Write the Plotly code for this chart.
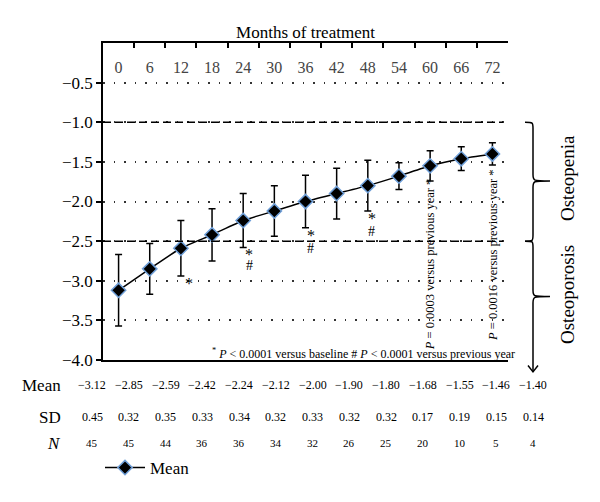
import plotly.graph_objects as go

months = ["0", "6", "12", "18", "24", "30", "36", "42", "48", "54", "60", "66", "72"]
mean = [-3.12, -2.85, -2.59, -2.42, -2.24, -2.12, -2.00, -1.90, -1.80, -1.68, -1.55, -1.46, -1.40]
sd = [0.45, 0.32, 0.35, 0.33, 0.34, 0.32, 0.33, 0.32, 0.32, 0.17, 0.19, 0.15, 0.14]
n_pat = [45, 45, 44, 36, 36, 34, 32, 26, 25, 20, 10, 5, 4]
y_ticks = [0.0, -0.5, -1.0, -1.5, -2.0, -2.5, -3.0, -3.5, -4.0]
thresholds = [-1.0, -2.5]

FONT = "'Liberation Serif', serif"
L, R, T, B = 103, 508, 43, 360  # plot area in pixels


def px(p):
    return (p - L) / (R - L)


def py(p):
    return (B - p) / (B - T)


def vy(v):
    return (v + 4.0) / 4.0


idx = {m: i for i, m in enumerate(months)}

fig = go.Figure()
fig.add_trace(go.Scatter(
    x=months, y=mean, mode="lines+markers", name="Mean",
    line=dict(color="black", width=1.5, shape="spline", smoothing=0.5),
    marker=dict(symbol="diamond", size=11, color="black",
                line=dict(color="#6f9fd8", width=1.5)),
    error_y=dict(type="data", array=sd, visible=True, color="black",
                 thickness=1.5, width=3.5),
))

shapes = []
for t in thresholds:
    shapes.append(dict(type="line", xref="paper", yref="y", x0=0, x1=px(503),
                       y0=t, y1=t, line=dict(color="black", width=1.5, dash="8px,4px")))

# braces
x0b, xv, xt = px(525), px(533), px(550)
def brace(ytop, ybot, ytip, tail=None):
    k = 0.02
    d = (f"M {x0b},{ytop} C {xv},{ytop} {xv},{ytop} {xv},{ytop - k} "
         f"L {xv},{ytip + k} C {xv},{ytip} {xv},{ytip} {xt},{ytip} "
         f"C {xv},{ytip} {xv},{ytip} {xv},{ytip - k} ")
    if tail is None:
        d += f"L {xv},{ybot + k} C {xv},{ybot} {xv},{ybot} {x0b},{ybot}"
    else:
        d += f"L {xv},{tail}"
    return d

shapes.append(dict(type="path", xref="paper", yref="paper",
                   path=brace(vy(-1.0), vy(-2.5), vy(-1.74)),
                   line=dict(color="black", width=1.5)))
shapes.append(dict(type="path", xref="paper", yref="paper",
                   path=brace(vy(-2.5), None, vy(-3.2), tail=vy(-4.15)),
                   line=dict(color="black", width=1.5)))
aw = 5 / (R - L)
shapes.append(dict(type="path", xref="paper", yref="paper",
                   path=f"M {xv - aw},{vy(-4.07)} L {xv},{vy(-4.15)} L {xv + aw},{vy(-4.07)}",
                   line=dict(color="black", width=1.5)))

ann = []
C = dict(xanchor="center", yanchor="middle", showarrow=False)
# significance marks
marks = [("12", "*", -3.03, 8), ("24", "*", -2.67, 6), ("24", "#", -2.81, 6),
         ("36", "*", -2.43, 5), ("36", "#", -2.59, 5), ("48", "*", -2.22, 4),
         ("48", "#", -2.38, 4)]
for m, s, yv, xs in marks:
    ann.append(dict(x=idx[m], y=yv, text=s, xshift=xs, **C,
                    font=dict(family=FONT, size=16 if s == "*" else 14, color="black")))
ann.append(dict(x=idx["60"], y=-2.79, text="<i>P</i> = 0.0003 versus previous year *",
                textangle=-90, **C, font=dict(family=FONT, size=12.5, color="black")))
ann.append(dict(x=idx["72"], y=-2.67, text="<i>P</i> = 0.0016 versus previous year *",
                textangle=-90, **C, font=dict(family=FONT, size=12.5, color="black")))
ann.append(dict(xref="paper", yref="paper", x=px(517), y=py(353), xanchor="right", yanchor="middle",
                text="<sup>*</sup> <i>P</i> < 0.0001 versus baseline # <i>P</i> < 0.0001 versus previous year",
                showarrow=False, font=dict(family=FONT, size=12, color="black")))
ann.append(dict(xref="paper", yref="paper", x=px(567), y=py(178), text="Osteopenia",
                textangle=-90, **C, font=dict(family=FONT, size=19, color="black")))
ann.append(dict(xref="paper", yref="paper", x=px(567), y=py(295), text="Osteoporosis",
                textangle=-90, **C, font=dict(family=FONT, size=19, color="black")))

# table
rows = [("Mean", py(385), [f"{v:.2f}".replace("-", "\u2212") for v in mean], 12),
        ("SD", py(417), [f"{v:.2f}" for v in sd], 12),
        ("<i>N</i>", py(443), [str(v) for v in n_pat], 11)]
for label, yy, vals, fs in rows:
    ann.append(dict(xref="paper", yref="paper", x=px(63), y=yy, xanchor="right", yanchor="middle",
                    text=label, showarrow=False, font=dict(family=FONT, size=17, color="black")))
    for i, v in enumerate(vals):
        ann.append(dict(xref="paper", yref="paper", x=px(92 + 36.75 * i), y=yy,
                        text=v, **C, font=dict(family=FONT, size=fs, color="black")))

fig.update_layout(
    width=600, height=502,
    margin=dict(l=L, r=600 - R, t=T, b=502 - B, pad=0, autoexpand=False),
    paper_bgcolor="white", plot_bgcolor="white",
    font=dict(family=FONT, color="black"),
    showlegend=True,
    legend=dict(orientation="h", x=px(100), y=py(468), xanchor="left", yanchor="middle",
                itemwidth=40,
                font=dict(family=FONT, size=17), bgcolor="rgba(0,0,0,0)"),
    xaxis=dict(type="category", side="top", tickson="boundaries", ticks="inside",
               range=[-0.5, len(months) - 0.5], tickangle=0,
               ticklen=5, tickwidth=1.5, tickcolor="black", showline=True, linecolor="black",
               linewidth=1.5, mirror=True, showgrid=False, ticklabelposition="inside",
               ticklabelstandoff=14,
               tickfont=dict(family=FONT, size=16), automargin=False,
               title=dict(text="Months of treatment", font=dict(family=FONT, size=17), standoff=16)),
    yaxis=dict(range=[-4, 0], tickvals=y_ticks, tickformat=".1f", ticks="outside",
               ticklen=5, tickwidth=1.5, tickcolor="black", showline=True, linecolor="black",
               linewidth=1.5, showgrid=True, gridcolor="#333", gridwidth=1.5, automargin=False,
               griddash="1.5px,9px", zeroline=False, tickfont=dict(family=FONT, size=17)),
    shapes=shapes, annotations=ann,
)
fig.write_html("out.html", config={"displayModeBar": False},
               post_script="document.body.style.margin='0';")
